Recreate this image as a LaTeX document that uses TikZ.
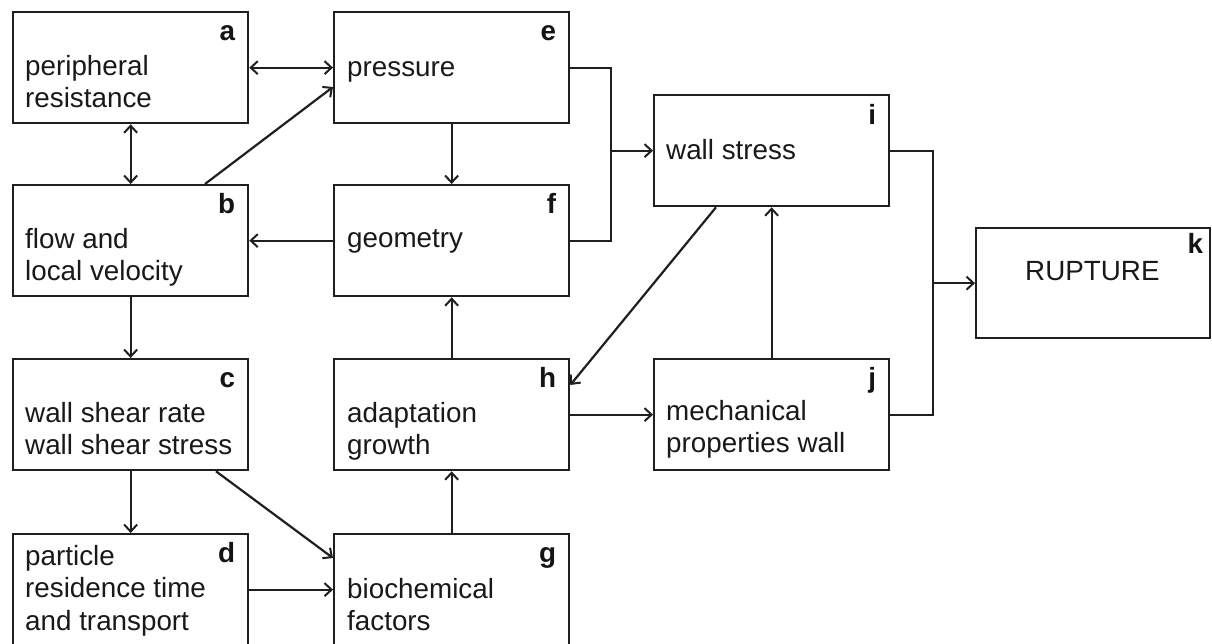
\documentclass[tikz,border=0pt]{standalone}
\usepackage{fontspec}
\setmainfont{Liberation Sans}
\usetikzlibrary{arrows.meta,calc}
\newcommand\mlines[1]{\begin{tabular}[t]{@{}l@{}}#1\end{tabular}}
\begin{document}
\begin{tikzpicture}[x=1pt,y=-1pt,
  box/.style={draw=black!88, line width=2.3pt, minimum width=235pt, minimum height=111pt, inner sep=0pt, anchor=north west},
  txt/.style={anchor=base west, inner sep=0pt, text=black!90, font=\fontsize{27.8}{32.5}\selectfont},
  lbl/.style={anchor=base east, inner sep=0pt, text=black!92, font=\fontsize{27.8}{32.5}\selectfont\bfseries},
  con/.style={draw=black!88, line width=2.2pt},
  arr/.style={con, -{Straight Barb[length=7pt,width=13pt,line width=2pt]}},
  darr/.style={con, {Straight Barb[length=7pt,width=13pt,line width=2pt]}-{Straight Barb[length=7pt,width=13pt,line width=2pt]}}]
\useasboundingbox (0,0) rectangle (1212,643);
% boxes
\node[box] (a) at (12,11) {};
\node[box] (e) at (333,11) {};
\node[box] (b) at (12,184) {};
\node[box] (f) at (333,184) {};
\node[box] (c) at (12,358) {};
\node[box] (h) at (333,358) {};
\node[box] (d) at (12,533) {};
\node[box] (g) at (333,533) {};
\node[box] (i) at (653,94) {};
\node[box] (j) at (653,358) {};
\node[box, minimum width=234pt, minimum height=110pt] (k) at (975,227) {};
% texts
\node[txt] (ta) at ($(a.north west)+(13,64)$) {\mlines{peripheral\\resistance}};
\node[txt] (te) at ($(e.north west)+(14,65)$) {pressure};
\node[txt] (tb) at ($(b.north west)+(13,64)$) {\mlines{flow and\\local velocity}};
\node[txt] (tf) at ($(f.north west)+(14,63)$) {geometry};
\node[txt] (tc) at ($(c.north west)+(13,64)$) {\mlines{wall shear rate\\wall shear stress}};
\node[txt] (th) at ($(h.north west)+(14,64)$) {\mlines{adaptation\\growth}};
\node[txt] (td) at ($(d.north west)+(13,32)$) {\mlines{particle\\residence time\\and transport}};
\node[txt] (tg) at ($(g.north west)+(14,65)$) {\mlines{biochemical\\factors}};
\node[txt] (ti) at ($(i.north west)+(13,65)$) {wall stress};
\node[txt] (tj) at ($(j.north west)+(13,62)$) {\mlines{mechanical\\properties wall}};
\node[txt] (tk) at ($(k.north west)+(50,53)$) {RUPTURE};
% letters
\node[lbl] (la) at ($(a.north east)+(-14,29)$) {a};
\node[lbl] (le) at ($(e.north east)+(-14,29)$) {e};
\node[lbl] (lb) at ($(b.north east)+(-14,29)$) {b};
\node[lbl] (lf) at ($(f.north east)+(-14,29)$) {f};
\node[lbl] (lc) at ($(c.north east)+(-14,29)$) {c};
\node[lbl] (lh) at ($(h.north east)+(-14,29)$) {h};
\node[lbl] (ld) at ($(d.north east)+(-14,29)$) {d};
\node[lbl] (lg) at ($(g.north east)+(-14,29)$) {g};
\node[lbl] (li) at ($(i.north east)+(-14,30)$) {i};
\node[lbl] (lj) at ($(j.north east)+(-14,29)$) {j};
\node[lbl] (lk) at ($(k.north east)+(-8,26)$) {k};
% junction points
\coordinate (m1) at ($(i.west)+(-42,0)$);
\coordinate (m2) at ($(k.west)+(-42,0)$);
% connectors
\draw[darr] (a.east) -- (e.west);
\draw[darr] (a.south) -- (b.north);
\draw[arr] ($(b.north west)+(193,0)$) -- ($(e.north west)+(0,76)$);
\draw[arr] (e.south) -- (f.north);
\draw[arr] (f.west) -- (b.east);
\draw[con] (e.east) -| (m1) |- (f.east);
\draw[arr] (m1) -- (i.west);
\draw[arr] (b.south) -- (c.north);
\draw[arr] (c.south) -- (d.north);
\draw[arr] ($(c.south west)+(204,0)$) -- ($(g.north west)+(0,25)$);
\draw[arr] (d.east) -- (g.west);
\draw[arr] (g.north) -- (h.south);
\draw[arr] (h.north) -- (f.south);
\draw[arr] (h.east) -- (j.west);
\draw[arr] (j.north) -- (i.south);
\draw[arr] ($(i.south west)+(63,0)$) -- ($(h.north east)+(0,27)$);
\draw[con] (i.east) -| (m2) |- (j.east);
\draw[arr] (m2) -- (k.west);
\end{tikzpicture}
\end{document}
